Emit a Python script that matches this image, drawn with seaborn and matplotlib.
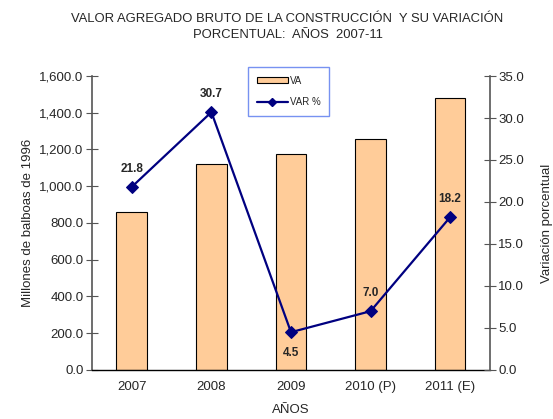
import matplotlib
matplotlib.use('Agg')
import matplotlib.pyplot as plt
import seaborn as sns
from matplotlib.ticker import FuncFormatter, FixedLocator
from matplotlib.patches import Patch
from matplotlib.lines import Line2D

# Data
years = ['2007', '2008', '2009', '2010 (P)', '2011 (E)']
va = [859, 1121, 1173, 1257, 1481]          # millones de balboas de 1996
var_pct = [21.8, 30.7, 4.5, 7.0, 18.2]       # variación porcentual

sns.set_style('white')
plt.rcParams['font.family'] = ['Liberation Sans', 'DejaVu Sans']

bar_color = '#FFCC99'
line_color = '#000080'

fig = plt.figure(figsize=(5.53, 4.19), dpi=100)
ax = fig.add_axes([0.1664, 0.117, 0.7196, 0.7016])

sns.barplot(x=years, y=va, color=bar_color, edgecolor='black', linewidth=0.8,
            width=0.385, saturation=1, ax=ax)
ax.set_ylim(0, 1600)
ax.set_xlim(-0.5, 4.5)
ax.set_yticks(range(0, 1601, 200))
ax.yaxis.set_major_formatter(FuncFormatter(lambda v, p: f'{v:,.1f}'))
ax.set_ylabel('Millones de balboas de 1996', fontsize=9.5, labelpad=4)
ax.set_xlabel('AÑOS', fontsize=9.5, labelpad=8)

ax2 = ax.twinx()
sns.lineplot(x=years, y=var_pct, color=line_color, marker='D', markersize=6,
             markeredgecolor=line_color, linewidth=1.6, sort=False, ax=ax2)
ax2.set_ylim(0, 35)
ax2.set_yticks(range(0, 36, 5))
ax2.yaxis.set_major_formatter(FuncFormatter(lambda v, p: f'{v:.1f}'))
ax2.set_ylabel('Variación porcentual', fontsize=9.5, labelpad=12)

for i, v in enumerate(var_pct):
    dy = -15 if v < 5 else 13
    ax2.annotate(f'{v:.1f}', (i, v), xytext=(0, dy), textcoords='offset points',
                 ha='center', va='center', fontsize=8.5, fontweight='bold')

# x ticks between categories
ax.xaxis.set_major_locator(FixedLocator([-0.5, 0.5, 1.5, 2.5, 3.5, 4.5]))
ax.xaxis.set_minor_locator(FixedLocator(range(len(years))))
ax.set_xticklabels([])
ax.set_xticklabels(years, minor=True)
ax.tick_params(axis='x', which='major', direction='inout', length=8, width=0.8, color='black')
ax.tick_params(axis='x', which='minor', length=0, labelsize=9.5, pad=8)
ax.tick_params(axis='y', direction='inout', length=8, width=0.8, labelsize=9.5, left=True, pad=2,
               color='#555555')
ax2.tick_params(axis='y', direction='inout', length=8, width=0.8, labelsize=9.5, right=True, pad=2,
                color='#555555')

for a in (ax, ax2):
    a.spines['top'].set_visible(False)
    a.spines['left'].set_color('#555555')
    a.spines['right'].set_color('#555555')
    a.spines['bottom'].set_color('black')
    a.spines['left'].set_linewidth(1.2)
    a.spines['right'].set_linewidth(1.2)
    a.spines['bottom'].set_linewidth(1.0)
ax2.spines['left'].set_visible(False)
ax2.spines['bottom'].set_visible(False)
ax.spines['right'].set_visible(False)

handles = [Patch(facecolor=bar_color, edgecolor='black', linewidth=0.8),
           Line2D([], [], color=line_color, marker='D', markersize=4, linewidth=1.6)]
leg = fig.legend(handles, ['VA', 'VAR %'], loc='upper left', bbox_to_anchor=(248 / 553, 1 - 67 / 419),
                 fontsize=7, frameon=True, fancybox=False, handlelength=3.2, handleheight=0.6,
                 labelspacing=1.2, borderpad=0.9, handletextpad=0.2, borderaxespad=0)
leg.get_frame().set_edgecolor('#5577EE')
leg.get_frame().set_linewidth(1.0)

fig.text(0.52, 0.97, 'VALOR AGREGADO BRUTO DE LA CONSTRUCCIÓN  Y SU VARIACIÓN\nPORCENTUAL:  AÑOS  2007-11',
         ha='center', va='top', fontsize=9.4, linespacing=1.45)

fig.savefig('out.png', dpi=100)
